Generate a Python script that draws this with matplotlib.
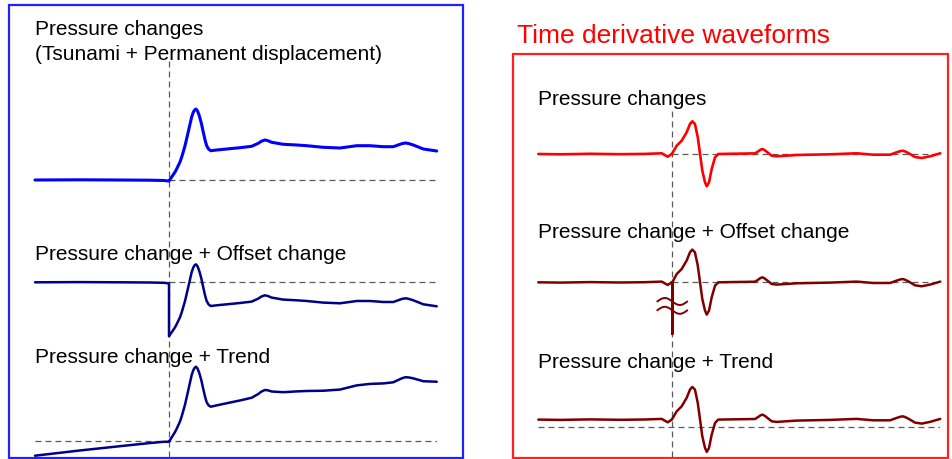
import numpy as np
import matplotlib
matplotlib.use("Agg")
import matplotlib.pyplot as plt
from matplotlib.patches import Rectangle

plt.rcParams['font.family'] = ['Liberation Sans', 'DejaVu Sans']
plt.rcParams['lines.scale_dashes'] = False
plt.rcParams['lines.solid_joinstyle'] = 'round'
plt.rcParams['lines.solid_capstyle'] = 'round'

# time in minutes relative to the earthquake origin
time_p = [-10.0, -6.64, -3.66, -1.42, -0.37, -0.05, 0.0, 0.20, 0.45, 0.57,
          0.82, 0.95, 1.19, 1.37, 1.57, 1.69, 1.81, 1.91, 2.01, 2.13,
          2.26, 2.41, 2.56, 2.69, 2.81, 2.95, 3.11, 3.56, 4.31, 5.30,
          6.17, 6.66, 6.90, 7.16, 7.40, 7.66, 8.53, 9.53, 10.28, 11.51,
          12.76, 14.01, 15.0, 15.99, 16.74, 17.24, 17.45, 17.69, 17.95, 18.23,
          18.98, 19.98]
# ocean-bottom pressure change (tsunami + permanent displacement)
pressure = [0.0, 0.02, 0.0, -0.02, -0.05, -0.1, -0.1, 0.3, 0.8, 1.1,
            1.8, 2.3, 3.4, 4.43, 5.6, 6.3, 6.77, 7.0, 7.1, 6.9,
            6.43, 5.7, 4.77, 4.0, 3.43, 3.1, 2.93, 3.0, 3.1, 3.23,
            3.37, 3.67, 3.88, 4.0, 3.92, 3.77, 3.57, 3.5, 3.43, 3.27,
            3.2, 3.43, 3.43, 3.33, 3.33, 3.57, 3.66, 3.7, 3.62, 3.5,
            3.1, 2.9]

offset_step = -5.3      # sensor offset jump at the origin time
trend_rate = 0.15       # instrument drift per minute

time_d = [-10.0, -8.38, -6.14, -3.90, -2.04, -0.79, -0.34, -0.04, 0.33, 0.70,
          1.07, 1.32, 1.49, 1.69, 1.90, 2.07, 2.24, 2.44, 2.57, 2.74,
          2.94, 3.19, 3.43, 4.31, 6.17, 6.42, 6.57, 6.72, 6.88, 7.04,
          7.42, 7.79, 9.28, 11.77, 13.76, 15.0, 16.25, 16.75, 17.0, 17.19,
          17.4, 17.61, 18.11, 18.61, 19.23, 20.0]
# time derivative of the pressure record
dpressure = [0.0, -0.03, 0.02, -0.02, 0.01, 0.07, -0.27, 0.0, 0.83, 1.33,
             2.17, 3.0, 3.27, 3.0, 1.67, 0.0, -1.67, -2.83, -3.23, -2.83,
             -1.5, -0.33, 0.0, 0.02, 0.06, 0.27, 0.42, 0.5, 0.4, 0.23,
             -0.17, -0.23, -0.1, -0.03, 0.07, -0.07, -0.07, 0.17, 0.28, 0.33,
             0.24, 0.1, -0.3, -0.4, -0.23, 0.07]

dtrend = 0.77           # derivative of the drift
dspike = -5.17          # derivative of the offset step (clipped)

T0, T1 = -10.0, 20.0
W, H = 953, 460

tp = np.array(time_p)
p = np.array(pressure)
td = np.array(time_d)
dp = np.array(dpressure)

# pressure + offset: step at t = 0
before = tp <= 0
t_off = np.concatenate([tp[before], tp[tp >= 0]])
p_off = np.concatenate([p[before], p[tp >= 0] + offset_step])
# pressure + linear drift
p_trend = p + trend_rate * tp

# derivative of the offset record: spike at t = 0
pre = td < 0
td_off = np.concatenate([td[pre], [0.0, 0.0, 0.0], td[~pre]])
dp_off = np.concatenate([dp[pre], [0.0, dspike, 0.0], dp[~pre]])
dp_trend = dp + dtrend

fig = plt.figure(figsize=(W / 100, H / 100), dpi=100)

bg = fig.add_axes([0, 0, 1, 1])
bg.set_xlim(0, W)
bg.set_ylim(H, 0)
bg.axis('off')


def trace_axes(x0, x1, base_y, ppu=10.0):
    ax = fig.add_axes([x0 / W, 0, (x1 - x0) / W, 1])
    ax.set_xlim(T0, T1)
    ax.set_ylim((base_y - H) / ppu, base_y / ppu)
    ax.axis('off')
    return ax


dash = dict(color='#5a5a5a', lw=0.9, linestyle=(0, (4.3, 2.9)), zorder=1)
line = dict(zorder=3, clip_on=False)

# ---- left panel: pressure records ----
bg.add_patch(Rectangle((9, 5.5), 454, 453, fill=False, ec='#2222ff', lw=1.6))
lx0, lx1 = 35, 437

a1 = trace_axes(lx0, lx1, 181)
a1.axvline(0, ymin=1 - 458 / H, ymax=1 - 60 / H, **dash)
a1.axhline(0, xmin=1 / 3, xmax=1, **dash)
a1.plot(tp, p, color='#0000ff', lw=2.2, **line)

a2 = trace_axes(lx0, lx1, 283.3)
a2.axhline(0, xmin=1 / 3, xmax=1, **dash)
a2.plot(t_off, p_off, color='#000088', lw=1.8, **line)

a3 = trace_axes(lx0, lx1, 441.7)
a3.axhline(0, xmin=0, xmax=1, **dash)
a3.plot(tp, p_trend, color='#000088', lw=1.8, **line)

fs = 15
bg.text(35, 35, 'Pressure changes', fontsize=fs, va='baseline')
bg.text(35, 60, '(Tsunami + Permanent displacement)', fontsize=fs, va='baseline')
bg.text(35, 260, 'Pressure change + Offset change', fontsize=fs, va='baseline')
bg.text(35, 363, 'Pressure change + Trend', fontsize=fs, va='baseline')

# ---- right panel: time derivatives ----
bg.add_patch(Rectangle((512.7, 55), 435, 403.7, fill=False, ec='#ff2020', lw=1.6))
bg.text(517, 42.7, 'Time derivative waveforms', fontsize=19, color='#ff0000',
        va='baseline')
rx0 = 538.3
rx1 = rx0 + 402

b1 = trace_axes(rx0, rx1, 155)
b1.axvline(0, ymin=1 - 458 / H, ymax=1 - 110 / H, **dash)
b1.axhline(0, xmin=1 / 3, xmax=1, **dash)
b1.plot(td, dp, color='#ff0000', lw=1.9, **line)

b2 = trace_axes(rx0, rx1, 283.3)
b2.axhline(0, xmin=1 / 3, xmax=1, **dash)
b2.plot(td_off, dp_off, color='#800000', lw=1.8, **line)
# break mark on the clipped spike
tw = np.linspace(-1.12, 1.12, 60)
for c in (-1.92, -2.80):
    b2.plot(tw, c - 0.35 * np.sin(np.pi * tw / 1.12), color='#800000',
            lw=1.4, zorder=4, clip_on=False)

b3 = trace_axes(rx0, rx1, 428.3)
b3.axhline(0, xmin=0, xmax=1, **dash)
b3.plot(td, dp_trend, color='#800000', lw=1.8, **line)

bg.text(538, 105, 'Pressure changes', fontsize=fs, va='baseline')
bg.text(538, 238, 'Pressure change + Offset change', fontsize=fs, va='baseline')
bg.text(538, 367.7, 'Pressure change + Trend', fontsize=fs, va='baseline')

fig.savefig('out.png', dpi=100)
